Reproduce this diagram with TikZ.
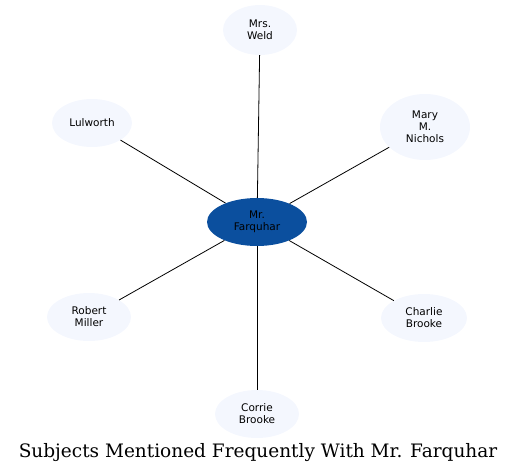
\documentclass[tikz,border=0pt]{standalone}
\usepackage{fontspec}
\setmainfont{DejaVu Serif}
\newfontfamily\nodefont{DejaVu Sans}
\usepackage{tikz}
\usetikzlibrary{shapes.geometric, positioning}
\definecolor{hubblue}{HTML}{0B4F9E}
\definecolor{paleblue}{HTML}{F4F7FE}
\tikzset{subject/.style={ellipse, fill=paleblue, inner sep=0pt, align=center,
    font=\nodefont\fontsize{10.5}{12}\selectfont},
    hub/.style={subject, fill=hubblue},
    link/.style={draw=black, line width=0.8pt}}

\begin{document}
\begin{tikzpicture}[x=1pt,y=-1pt]
\useasboundingbox (0,0) rectangle (517,476);
\node[hub, minimum width=100pt, minimum height=48pt] (farquhar) at (257,222) {Mr.\\Farquhar};
\node[subject, minimum width=74pt, minimum height=50pt] (weld) at (260,30) {Mrs.\\Weld};
\node[subject, minimum width=80pt, minimum height=48pt] (lulworth) at (92,123) {Lulworth};
\node[subject, minimum width=90pt, minimum height=66pt] (nichols) at (425,127) {Mary\\M.\\Nichols};
\node[subject, minimum width=84pt, minimum height=48pt] (miller) at (89,317) {Robert\\Miller};
\node[subject, minimum width=86pt, minimum height=48pt] (charlie) at (424,318) {Charlie\\Brooke};
\node[subject, minimum width=84pt, minimum height=48pt] (corrie) at (257,414) {Corrie\\Brooke};
\draw[link] (farquhar) -- (weld);
\draw[link] (farquhar) -- (lulworth);
\draw[link] (farquhar) -- (nichols);
\draw[link] (farquhar) -- (miller);
\draw[link] (farquhar) -- (charlie);
\draw[link] (farquhar) -- (corrie);
\node[font=\fontsize{18.5}{22}\selectfont] (title) at (258,453) {Subjects Mentioned Frequently With Mr. Farquhar};
\end{tikzpicture}
\end{document}
